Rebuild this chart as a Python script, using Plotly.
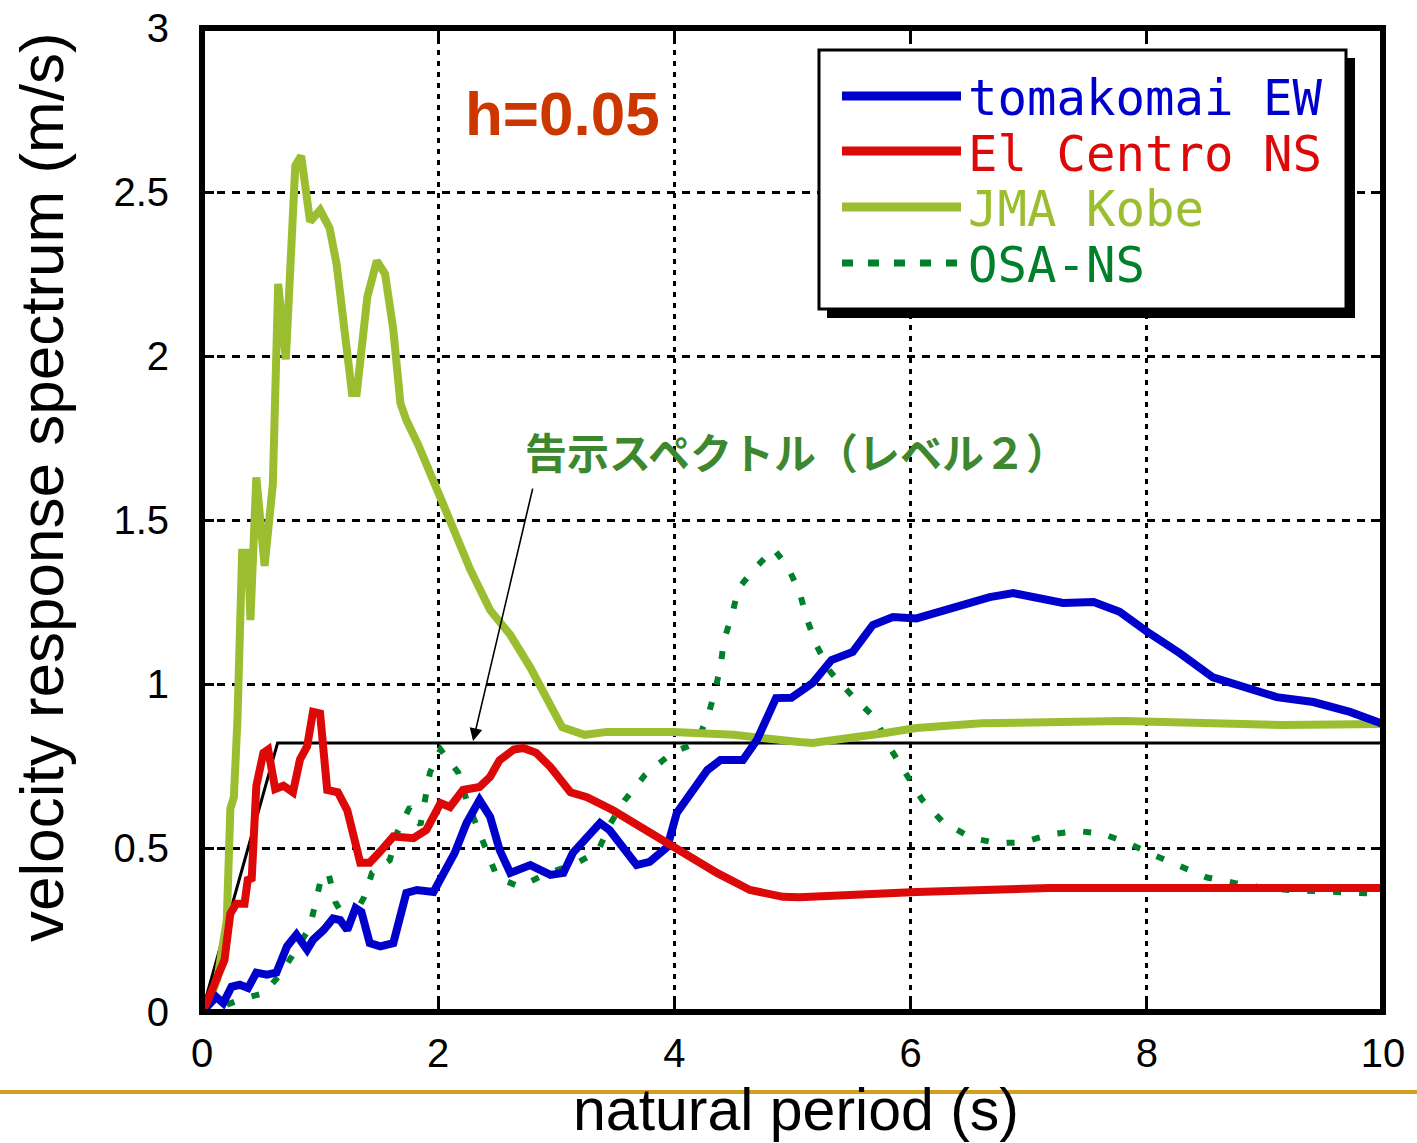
import plotly.graph_objects as go

# ---------------- data ----------------
tom_x = [0, 0.04, 0.12, 0.18, 0.25, 0.32, 0.39, 0.46, 0.55, 0.63, 0.72, 0.80, 0.89, 0.94, 1.03, 1.11, 1.17,
         1.23, 1.30, 1.35, 1.42, 1.51, 1.62, 1.73, 1.82, 1.96, 2.04, 2.14, 2.24, 2.35, 2.44, 2.52, 2.61,
         2.78, 2.95, 3.06, 3.14, 3.26, 3.37, 3.45, 3.57, 3.68, 3.79, 3.94, 4.02, 4.16, 4.28, 4.39, 4.58,
         4.70, 4.86, 4.99, 5.17, 5.33, 5.51, 5.68, 5.85, 6.05, 6.25, 6.44, 6.67, 6.87, 7.29, 7.55, 7.77,
         8.0, 8.28, 8.56, 8.81, 9.10, 9.41, 9.72, 10.0]
tom_y = [0, 0.015, 0.046, 0.027, 0.077, 0.083, 0.073, 0.12, 0.114, 0.12, 0.2, 0.236, 0.19, 0.22, 0.25, 0.285, 0.28,
         0.25, 0.317, 0.305, 0.21, 0.2, 0.21, 0.363, 0.372, 0.366, 0.42, 0.485, 0.576, 0.646, 0.595, 0.494, 0.424,
         0.448, 0.418, 0.424, 0.485, 0.534, 0.576, 0.555, 0.5, 0.448, 0.458, 0.503, 0.607, 0.677, 0.738, 0.768, 0.768,
         0.83, 0.957, 0.958, 1.003, 1.073, 1.098, 1.18, 1.204, 1.2, 1.22, 1.24, 1.265, 1.277, 1.247, 1.25, 1.22,
         1.16, 1.094, 1.02, 0.99, 0.96, 0.945, 0.915, 0.878]

elc_x = [0, 0.04, 0.13, 0.19, 0.24, 0.29, 0.36, 0.39, 0.42, 0.46, 0.52, 0.56, 0.62, 0.69, 0.77, 0.83, 0.89,
         0.94, 1.0, 1.06, 1.15, 1.23, 1.34, 1.42, 1.51, 1.62, 1.79, 1.90, 2.02, 2.10, 2.21, 2.35, 2.44, 2.52,
         2.64, 2.72, 2.83, 2.95, 3.12, 3.26, 3.48, 3.76, 4.07, 4.36, 4.64, 4.92, 5.06, 6.05, 7.18, 8.0, 10.0]
elc_y = [0, 0.027, 0.107, 0.158, 0.3, 0.33, 0.33, 0.41, 0.40, 0.69, 0.79, 0.80, 0.68, 0.69, 0.67, 0.77, 0.81,
         0.915, 0.91, 0.677, 0.67, 0.615, 0.455, 0.455, 0.49, 0.535, 0.53, 0.555, 0.637, 0.625, 0.677, 0.686, 0.717, 0.768,
         0.80, 0.805, 0.79, 0.747, 0.67, 0.655, 0.615, 0.555, 0.485, 0.424, 0.372, 0.351, 0.35, 0.366, 0.378, 0.378, 0.378]

jma_x = [0, 0.04, 0.13, 0.21, 0.24, 0.27, 0.30, 0.32, 0.34, 0.39, 0.41, 0.46, 0.53, 0.60, 0.645, 0.71, 0.79,
         0.84, 0.915, 1.0, 1.08, 1.14, 1.27, 1.31, 1.40, 1.48, 1.55, 1.62, 1.68, 1.73, 1.83, 2.04, 2.27, 2.44,
         2.61, 2.78, 3.05, 3.24, 3.43, 3.99, 4.5, 5.06, 5.17, 5.77, 6.05, 6.6, 7.18, 7.8, 8.56, 9.15, 10.0]
jma_y = [0, 0.015, 0.1, 0.28, 0.62, 0.655, 0.89, 1.195, 1.4, 1.4, 1.195, 1.63, 1.36, 1.61, 2.22, 1.99, 2.58,
         2.61, 2.41, 2.445, 2.39, 2.28, 1.887, 1.887, 2.18, 2.29, 2.25, 2.08, 1.856, 1.805, 1.73, 1.55, 1.35, 1.225,
         1.15, 1.05, 0.868, 0.845, 0.854, 0.854, 0.845, 0.823, 0.82, 0.85, 0.866, 0.88, 0.884, 0.887, 0.88, 0.875, 0.878]

osa_x = [0, 0.12, 0.34, 0.53, 0.68, 0.80, 0.91, 0.96, 1.01, 1.07, 1.13, 1.24, 1.37, 1.44, 1.59, 1.65, 1.76,
         1.85, 1.89, 1.93, 2.02, 2.17, 2.24, 2.33, 2.41, 2.50, 2.69, 2.93, 3.14, 3.35, 3.45, 3.58, 3.75, 3.98,
         4.18, 4.28, 4.34, 4.39, 4.42, 4.49, 4.54, 4.67, 4.84, 4.96, 5.06, 5.12, 5.2, 5.32, 5.5, 5.7, 5.81,
         5.95, 6.1, 6.27, 6.52, 6.74, 6.95, 7.17, 7.41, 7.63, 7.84, 8.05, 8.3, 8.51, 8.75, 8.96, 9.2, 9.41,
         9.62, 9.8, 10.0]
osa_y = [0, 0.01, 0.04, 0.058, 0.123, 0.19, 0.256, 0.33, 0.41, 0.424, 0.335, 0.265, 0.348, 0.424, 0.463, 0.545, 0.625,
         0.57, 0.652, 0.73, 0.80, 0.73, 0.646, 0.565, 0.488, 0.41, 0.382, 0.424, 0.448, 0.488, 0.57, 0.646, 0.722, 0.79,
         0.82, 0.896, 0.974, 1.052, 1.134, 1.213, 1.29, 1.348, 1.412, 1.357, 1.28, 1.2, 1.12, 1.037, 0.966, 0.896, 0.814,
         0.732, 0.646, 0.58, 0.53, 0.515, 0.517, 0.541, 0.552, 0.543, 0.515, 0.48, 0.44, 0.41, 0.393, 0.38, 0.372, 0.369,
         0.366, 0.363, 0.36]

code_x = [0, 0.64, 10.0]
code_y = [0, 0.82, 0.82]

series_names = ["tomakomai EW", "El Centro NS", "JMA Kobe", "OSA-NS"]
series_colors = ["#0000CC", "#DD0808", "#9BBE30", "#00802A"]

x_ticks = [0, 2, 4, 6, 8, 10]
y_ticks = [0, 0.5, 1, 1.5, 2, 2.5, 3]
y_ticktext = ["0", "0.5", "1", "1.5", "2", "2.5", "3"]

# ---------------- geometry helpers (layout decoration only) ----------------
W, H = 1417, 1143
L, R, T, B = 202, 1383, 28, 1012
PW, PH = R - L, B - T


def px(xp):
    return (xp - L) / PW


def py(yp):
    return (B - yp) / PH


fig = go.Figure()

fig.add_trace(go.Scatter(x=code_x, y=code_y, mode="lines", line=dict(color="black", width=3),
                         name="告示スペクトル（レベル２）", showlegend=False))
fig.add_trace(go.Scatter(x=osa_x, y=osa_y, mode="lines", name=series_names[3],
                         line=dict(color=series_colors[3], width=6, dash="8px,18px"), showlegend=False))
fig.add_trace(go.Scatter(x=jma_x, y=jma_y, mode="lines", name=series_names[2],
                         line=dict(color=series_colors[2], width=8), showlegend=False))
fig.add_trace(go.Scatter(x=tom_x, y=tom_y, mode="lines", name=series_names[0],
                         line=dict(color=series_colors[0], width=8), showlegend=False))
fig.add_trace(go.Scatter(x=elc_x, y=elc_y, mode="lines", name=series_names[1],
                         line=dict(color=series_colors[1], width=8), showlegend=False))

tickfont = dict(family="Liberation Sans, Arial, sans-serif", size=40, color="black")

fig.update_xaxes(range=[0, 10], tickvals=x_ticks, ticktext=[str(v) for v in x_ticks],
                 showgrid=True, gridcolor="black", gridwidth=2.5, griddash="5px,6px",
                 zeroline=False, showline=False, ticks="inside", ticklen=12, tickwidth=3,
                 tickcolor="black", mirror="ticks", tickfont=tickfont, ticklabelstandoff=14)
fig.update_yaxes(range=[0, 3], tickvals=y_ticks, ticktext=y_ticktext,
                 showgrid=True, gridcolor="black", gridwidth=2.5, griddash="8px,7px",
                 zeroline=False, showline=False, ticks="inside", ticklen=12, tickwidth=3,
                 tickcolor="black", mirror="ticks", tickfont=tickfont, ticklabelstandoff=32)

shapes = []
# plot frame
shapes.append(dict(type="rect", xref="paper", yref="paper", x0=0, x1=1, y0=0, y1=1,
                   line=dict(color="black", width=6), layer="above"))
# tan separator line of the slide
shapes.append(dict(type="line", xref="paper", yref="paper", x0=px(0), x1=px(W), y0=py(1092), y1=py(1092),
                   line=dict(color="#D2A01E", width=4), layer="above"))
# legend box shadow and box
shapes.append(dict(type="rect", xref="paper", yref="paper", x0=px(827), x1=px(1355), y0=py(58), y1=py(318),
                   fillcolor="black", line=dict(color="black", width=0), layer="above"))
shapes.append(dict(type="rect", xref="paper", yref="paper", x0=px(819), x1=px(1346), y0=py(50), y1=py(309),
                   fillcolor="white", line=dict(color="black", width=3), layer="above"))
leg_rows = [96, 151, 207, 263]
for i, yy in enumerate(leg_rows):
    dash = "11px,15px" if i == 3 else "solid"
    wdt = 7 if i == 3 else 9
    shapes.append(dict(type="line", xref="paper", yref="paper", x0=px(842), x1=px(961), y0=py(yy), y1=py(yy),
                       line=dict(color=series_colors[i], width=wdt, dash=dash), layer="above"))

annotations = []
for i, yy in enumerate(leg_rows):
    annotations.append(dict(xref="paper", yref="paper", x=px(966), y=py(yy + 3), xanchor="left", yanchor="middle",
                            text=series_names[i], showarrow=False,
                            font=dict(family="DejaVu Sans Mono, Liberation Mono, monospace", size=49,
                                      color=series_colors[i])))

annotations.append(dict(xref="paper", yref="paper", x=px(562), y=py(113), xanchor="center", yanchor="middle",
                        text="<b>h=0.05</b>", showarrow=False,
                        font=dict(family="Liberation Sans, Arial, sans-serif", size=62, color="#CC3700")))
annotations.append(dict(xref="paper", yref="paper", x=px(796), y=py(450), xanchor="center", yanchor="middle",
                        text="<b>告示スペクトル（レベル２）</b>", showarrow=False,
                        font=dict(family="Noto Sans CJK JP, sans-serif", size=42, color="#3D872E")))
# arrow pointing at the code spectrum
annotations.append(dict(x=2.295, y=0.826, xref="x", yref="y", text="", showarrow=True,
                        ax=60, ay=-254, axref="pixel", ayref="pixel",
                        arrowhead=2, arrowsize=1.6, arrowwidth=1.6, arrowcolor="black"))
# axis titles
annotations.append(dict(xref="paper", yref="paper", x=px(796), y=py(1110), xanchor="center", yanchor="middle",
                        text="natural period (s)", showarrow=False,
                        font=dict(family="Liberation Sans, Arial, sans-serif", size=59, color="black")))
annotations.append(dict(xref="paper", yref="paper", x=px(42), y=py(487), xanchor="center", yanchor="middle",
                        text="velocity response spectrum (m/s)", showarrow=False, textangle=-90,
                        font=dict(family="Liberation Sans, Arial, sans-serif", size=62, color="black")))

fig.update_layout(width=W, height=H, margin=dict(l=L, r=W - R, t=T, b=H - B, autoexpand=False),
                  plot_bgcolor="white", paper_bgcolor="white", showlegend=False,
                  shapes=shapes, annotations=annotations)

fig.write_html("out.html")
